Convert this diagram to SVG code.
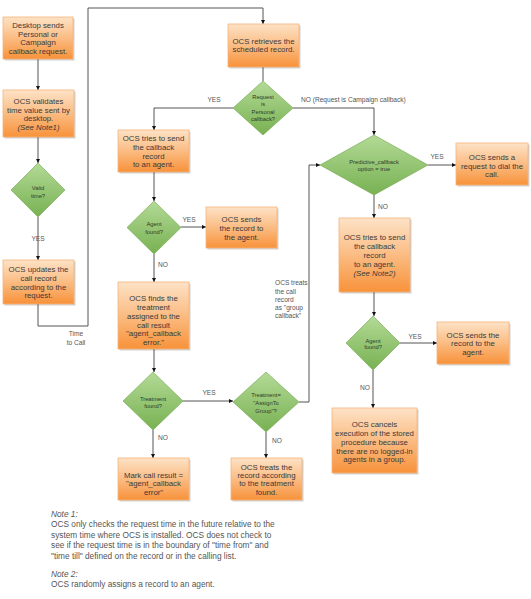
<svg xmlns="http://www.w3.org/2000/svg" width="531" height="599" viewBox="0 0 531 599">
<defs>
<linearGradient id="gOrange" x1="0" y1="0" x2="0" y2="1">
<stop offset="0" stop-color="#fde2c6"/>
<stop offset="0.45" stop-color="#fbc08a"/>
<stop offset="1" stop-color="#f8923a"/>
</linearGradient>
<linearGradient id="gGreen" x1="0" y1="0" x2="0" y2="1">
<stop offset="0" stop-color="#b3da96"/>
<stop offset="1" stop-color="#78b152"/>
</linearGradient>
<marker id="arr" viewBox="0 0 10 10" refX="10" refY="5" markerWidth="4.5" markerHeight="4.5" orient="auto" markerUnits="userSpaceOnUse">
<path d="M0,0 L10,5 L0,10 z" fill="#111"/>
</marker>
</defs>
<style>
.box{fill:url(#gOrange);stroke:#f6b57c;stroke-width:0.8}
.sh{fill:#000;opacity:0.18}
.dia{fill:url(#gGreen);stroke:#6fa64c;stroke-width:0.6}
.bt{font-family:"Liberation Sans",Arial,sans-serif;font-size:7.8px;fill:#3a3a3a;text-anchor:middle}
.dt{font-family:"Liberation Sans",Arial,sans-serif;font-size:5.8px;fill:#2e3a28;text-anchor:middle}
.lb{font-family:"Liberation Sans",Arial,sans-serif;font-size:6.6px;fill:#555}
.nt{font-family:"Liberation Sans",Arial,sans-serif;font-size:8.3px;fill:#555}
.it{font-style:italic}
.ln{fill:none;stroke:#555;stroke-width:1}
.la{fill:none;stroke:#555;stroke-width:1;marker-end:url(#arr)}
</style>
<rect width="531" height="599" fill="#fff"/>

<g id="connectors">
<path class="la" d="M38,59 V90"/>
<path class="la" d="M38,137 V163"/>
<path class="la" d="M38,217 V260"/>
<path class="la" d="M38,304 V326 H88 V8 H263 V24"/>
<path class="ln" d="M263,67 V81"/>
<path class="la" d="M233,108 H154 V130"/>
<path class="la" d="M293,108 H374 V135"/>
<path class="la" d="M154,172 V201"/>
<path class="la" d="M181,227 H206"/>
<path class="la" d="M154,254 V282"/>
<path class="la" d="M154,349 V372"/>
<path class="la" d="M183,401 H233"/>
<path class="la" d="M153,430 V458"/>
<path class="la" d="M266,432 V458"/>
<path class="la" d="M299,402 H309 V165 H320"/>
<path class="la" d="M428,165 H456"/>
<path class="la" d="M374,195 V218"/>
<path class="la" d="M374,292 V316"/>
<path class="la" d="M400,343 H437"/>
<path class="la" d="M373,370 V408"/>
</g>

<g id="edge-labels">
<text class="lb" x="38" y="241.3" text-anchor="middle">YES</text>
<text class="lb" x="76" y="336.3" text-anchor="middle">Time</text>
<text class="lb" x="76" y="345.3" text-anchor="middle">to Call</text>
<text class="lb" x="214" y="102.3" text-anchor="middle">YES</text>
<text class="lb" x="301" y="102.3">NO (Request is Campaign callback)</text>
<text class="lb" x="189" y="222.3" text-anchor="middle">YES</text>
<text class="lb" x="163" y="267.3" text-anchor="middle">NO</text>
<text class="lb" x="209" y="395.3" text-anchor="middle">YES</text>
<text class="lb" x="163" y="440.3" text-anchor="middle">NO</text>
<text class="lb" x="277" y="443.3" text-anchor="middle">NO</text>
<text class="lb" x="437" y="159.3" text-anchor="middle">YES</text>
<text class="lb" x="383" y="209.3" text-anchor="middle">NO</text>
<text class="lb" x="415" y="339.3" text-anchor="middle">YES</text>
<text class="lb" x="365" y="390.3" text-anchor="middle">NO</text>
<text class="lb" x="275">
<tspan x="275" y="285.3">OCS treats</tspan>
<tspan x="275" y="294">the call</tspan>
<tspan x="275" y="301.6">record</tspan>
<tspan x="275" y="310">as "group</tspan>
<tspan x="275" y="318">callback"</tspan>
</text>
</g>

<g id="n-desktop">
<rect class="sh" x="4.5" y="18.5" width="70" height="42"/>
<rect class="box" x="3" y="17" width="70" height="42"/>
<text class="bt"><tspan x="38" y="27.8">Desktop sends</tspan><tspan x="38" y="36.5">Personal or</tspan><tspan x="38" y="45.1">Campaign</tspan><tspan x="38" y="53.8">callback request.</tspan></text>
</g>

<g id="n-validate">
<rect class="sh" x="4.5" y="91.5" width="71" height="47"/>
<rect class="box" x="3" y="90" width="71" height="47"/>
<text class="bt"><tspan x="38.5" y="103.8">OCS validates</tspan><tspan x="38.5" y="112.5">time value sent by</tspan><tspan x="38.5" y="121.2">desktop.</tspan><tspan x="38.5" y="129.9" class="it">(See Note1)</tspan></text>
</g>

<g id="d-valid">
<path class="dia" d="M38,163 L65,190 L38,217 L11,190 Z"/>
<text class="dt"><tspan x="38" y="189.5">Valid</tspan><tspan x="38" y="197.5">time?</tspan></text>
</g>

<g id="n-update">
<rect class="sh" x="4.5" y="261.5" width="71" height="44"/>
<rect class="box" x="3" y="260" width="71" height="44"/>
<text class="bt"><tspan x="38.5" y="272.1">OCS updates the</tspan><tspan x="38.5" y="280.8">call record</tspan><tspan x="38.5" y="289.5">according to the</tspan><tspan x="38.5" y="298.1">request.</tspan></text>
</g>

<g id="n-retrieve">
<rect class="sh" x="229.5" y="25.5" width="71" height="43"/>
<rect class="box" x="228" y="24" width="71" height="43"/>
<text class="bt"><tspan x="263.5" y="43.5">OCS retrieves the</tspan><tspan x="263.5" y="52.1">scheduled record.</tspan></text>
</g>

<g id="d-personal">
<path class="dia" d="M263,81 L293,108 L263,135 L233,108 Z"/>
<text class="dt"><tspan x="263" y="99.3">Request</tspan><tspan x="263" y="106.3">is</tspan><tspan x="263" y="114.3">Personal</tspan><tspan x="263" y="121.3">callback?</tspan></text>
</g>

<g id="n-try1">
<rect class="sh" x="119.5" y="131.5" width="71" height="42"/>
<rect class="box" x="118" y="130" width="71" height="42"/>
<text class="bt"><tspan x="153.5" y="141.1">OCS tries to send</tspan><tspan x="153.5" y="149.8">the callback</tspan><tspan x="153.5" y="158.5">record</tspan><tspan x="153.5" y="167.1">to an agent.</tspan></text>
</g>

<g id="d-agent1">
<path class="dia" d="M154,201 L181,227.5 L154,254 L127,227.5 Z"/>
<text class="dt"><tspan x="154" y="226">Agent</tspan><tspan x="154" y="233.7">found?</tspan></text>
</g>

<g id="n-send1">
<rect class="sh" x="207.5" y="208.5" width="71" height="41"/>
<rect class="box" x="206" y="207" width="71" height="41"/>
<text class="bt"><tspan x="241.5" y="222.1">OCS sends</tspan><tspan x="241.5" y="231.1">the record to</tspan><tspan x="241.5" y="239.5">the agent.</tspan></text>
</g>

<g id="n-finds">
<rect class="sh" x="119.5" y="283.5" width="71" height="67"/>
<rect class="box" x="118" y="282" width="71" height="67"/>
<text class="bt"><tspan x="153.5" y="301.1">OCS finds the</tspan><tspan x="153.5" y="309.8">treatment</tspan><tspan x="153.5" y="318.8">assigned to the</tspan><tspan x="153.5" y="327.5">call result</tspan><tspan x="153.5" y="336.1">"agent_callback</tspan><tspan x="153.5" y="345.1">error."</tspan></text>
</g>

<g id="d-treatment">
<path class="dia" d="M153,372 L183,401 L153,430 L123,401 Z"/>
<text class="dt"><tspan x="153" y="401.3">Treatment</tspan><tspan x="153" y="408">found?</tspan></text>
</g>

<g id="d-assign">
<path class="dia" d="M266,372 L299,402 L266,432 L233,402 Z"/>
<text class="dt"><tspan x="266" y="397.3">Treatment=</tspan><tspan x="266" y="405.3">"AssignTo</tspan><tspan x="266" y="412.7">Group"?</tspan></text>
</g>

<g id="n-mark">
<rect class="sh" x="119.5" y="459.5" width="71" height="42"/>
<rect class="box" x="118" y="458" width="71" height="42"/>
<text class="bt"><tspan x="153.5" y="477.8">Mark call result =</tspan><tspan x="153.5" y="486.1">"agent_callback</tspan><tspan x="153.5" y="494.8">error"</tspan></text>
</g>

<g id="n-treats">
<rect class="sh" x="232.5" y="459.5" width="71" height="42"/>
<rect class="box" x="231" y="458" width="71" height="42"/>
<text class="bt"><tspan x="266.5" y="469.5">OCS treats the</tspan><tspan x="266.5" y="477.8">record according</tspan><tspan x="266.5" y="486.1">to the treatment</tspan><tspan x="266.5" y="494.8">found.</tspan></text>
</g>

<g id="d-predictive">
<path class="dia" d="M374,135 L428,165 L374,195 L320,165 Z"/>
<text class="dt"><tspan x="374" y="163.7">Predictive_callback</tspan><tspan x="374" y="171">option = true</tspan></text>
</g>

<g id="n-dial">
<rect class="sh" x="457.5" y="144.5" width="72" height="42"/>
<rect class="box" x="456" y="143" width="72" height="42"/>
<text class="bt"><tspan x="492" y="159.5">OCS sends a</tspan><tspan x="492" y="168.5">request to dial the</tspan><tspan x="492" y="176.8">call.</tspan></text>
</g>

<g id="n-try2">
<rect class="sh" x="340.5" y="219.5" width="71" height="74"/>
<rect class="box" x="339" y="218" width="71" height="74"/>
<text class="bt"><tspan x="374.5" y="240.1">OCS tries to send</tspan><tspan x="374.5" y="248.8">the callback</tspan><tspan x="374.5" y="257.8">record</tspan><tspan x="374.5" y="266.8">to an agent.</tspan><tspan x="374.5" y="275.5" class="it">(See Note2)</tspan></text>
</g>

<g id="d-agent2">
<path class="dia" d="M373,316 L400,343 L373,370 L346,343 Z"/>
<text class="dt"><tspan x="373" y="342.7">Agent</tspan><tspan x="373" y="349.3">found?</tspan></text>
</g>

<g id="n-send2">
<rect class="sh" x="438.5" y="323.5" width="72" height="42"/>
<rect class="box" x="437" y="322" width="72" height="42"/>
<text class="bt"><tspan x="473" y="337.8">OCS sends the</tspan><tspan x="473" y="346.1">record to the</tspan><tspan x="473" y="355.1">agent.</tspan></text>
</g>

<g id="n-cancel">
<rect class="sh" x="333.5" y="409.5" width="85" height="65"/>
<rect class="box" x="332" y="408" width="85" height="65"/>
<text class="bt"><tspan x="374.5" y="427.1">OCS cancels</tspan><tspan x="374.5" y="436.1">execution of the stored</tspan><tspan x="374.5" y="444.8">procedure because</tspan><tspan x="374.5" y="453.5">there are no logged-in</tspan><tspan x="374.5" y="462.1">agents in a group.</tspan></text>
</g>

<g id="notes">
<text class="nt"><tspan x="51" y="516.5" class="it">Note 1:</tspan><tspan x="51" y="527">OCS only checks the request time in the future relative to the</tspan><tspan x="51" y="537.5">system time where OCS is installed. OCS does not check to</tspan><tspan x="51" y="548">see if the request time is in the boundary of "time from" and</tspan><tspan x="51" y="558.5">"time till" defined on the record or in the calling list.</tspan><tspan x="51" y="576.5" class="it">Note 2:</tspan><tspan x="51" y="587">OCS randomly assigns a record to an agent.</tspan></text>
</g>
</svg>
